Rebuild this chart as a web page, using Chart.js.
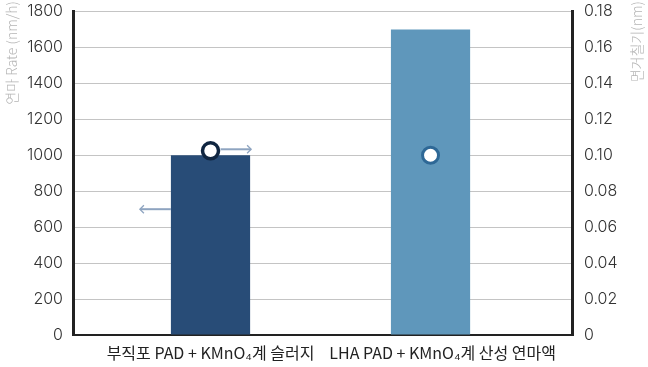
<!DOCTYPE html>
<html>
<head>
<meta charset="utf-8">
<script src="https://cdn.jsdelivr.net/npm/chart.js@4"></script>
<style>
  html, body { margin: 0; padding: 0; background: #fff; }
  #wrap { width: 648px; height: 367px; position: relative; }
</style>
</head>
<body>
<div id="wrap"><canvas id="chart"></canvas></div>
<script>
// chart data
const categories = ["부직포 PAD + KMnO₄계 슬러지", "LHA PAD + KMnO₄계 산성 연마액"];
const polishRate = [1000, 1700];        // nm/h, left axis
const roughness = [0.1025, 0.100];       // nm, right axis
const leftTicks = [0, 200, 400, 600, 800, 1000, 1200, 1400, 1600, 1800];
const rightTicks = [0, 0.02, 0.04, 0.06, 0.08, 0.10, 0.12, 0.14, 0.16, 0.18];
const leftTitle = "연마 Rate (nm/h)";
const rightTitle = "면거칠기(nm)";

const tickFont = { family: "Inter, 'Noto Sans CJK KR', sans-serif", size: 16, weight: 300 };
// the second category label sits a little right of its bar in the original
const labelShift = [0, 0.055];

// axis titles drawn at the top of each axis, both reading bottom-to-top
const axisTitles = {
    id: "axisTitles",
    afterDraw(chart) {
        const ctx = chart.ctx;
        ctx.save();
        ctx.fillStyle = "#b5b5b5";
        ctx.font = "300 14px 'Noto Sans CJK KR', sans-serif";
        ctx.textAlign = "right";
        ctx.textBaseline = "middle";
        [[leftTitle, 12], [rightTitle, 637]].forEach(([text, x]) => {
            ctx.save();
            ctx.translate(x, 1);
            ctx.rotate(-Math.PI / 2);
            ctx.fillText(text, 0, 0);
            ctx.restore();
        });
        ctx.restore();
    }
};

// small arrows telling which axis each series belongs to
const axisArrows = {
    id: "axisArrows",
    afterDatasetsDraw(chart) {
        const ctx = chart.ctx;
        const bar = chart.getDatasetMeta(0).data[0];
        const pt = chart.getDatasetMeta(1).data[0];
        const half = bar.width / 2;
        const yLeft = chart.scales.y.getPixelForValue(700);
        const arrows = [
            { x1: bar.x - half - 31, x2: bar.x - half, y: yLeft, dir: -1 },
            { x1: pt.x + 10, x2: bar.x + half + 1, y: pt.y - 1.5, dir: 1 }
        ];
        ctx.save();
        ctx.strokeStyle = "#8ea4c0";
        ctx.lineWidth = 2;
        arrows.forEach(a => {
            ctx.beginPath();
            ctx.moveTo(a.x1, a.y);
            ctx.lineTo(a.x2, a.y);
            ctx.stroke();
            const tip = a.dir < 0 ? a.x1 : a.x2;
            ctx.lineWidth = 1.3;
            ctx.beginPath();
            ctx.moveTo(tip - a.dir * 4, a.y - 4);
            ctx.lineTo(tip, a.y);
            ctx.lineTo(tip - a.dir * 4, a.y + 4);
            ctx.stroke();
            ctx.lineWidth = 2;
        });
        ctx.restore();
    }
};

const noEdgePadding = s => { s.paddingTop = 0; s.paddingBottom = 0; };

const ctx = document.getElementById("chart").getContext("2d");
new Chart(ctx, {
    type: "bar",
    data: {
        datasets: [{
            type: "bar",
            data: polishRate.map((v, i) => ({ x: i, y: v })),
            backgroundColor: ["#284c77", "#5f97bb"],
            barPercentage: 0.36,
            categoryPercentage: 1,
            yAxisID: "y",
            order: 2
        }, {
            type: "line",
            showLine: false,
            data: roughness.map((v, i) => ({ x: i, y: v })),
            pointRadius: 8,
            pointBorderWidth: [3.5, 3],
            pointBackgroundColor: "#ffffff",
            pointBorderColor: ["#0f2540", "#2e6896"],
            yAxisID: "y2",
            order: 1
        }]
    },
    options: {
        responsive: true,
        maintainAspectRatio: false,
        animation: false,
        layout: { padding: { top: 11, bottom: 0, left: 0, right: 0 } },
        plugins: {
            legend: { display: false },
            tooltip: { enabled: false }
        },
        scales: {
            x: {
                type: "linear",
                offset: false,
                min: -0.625,
                max: 1.643,
                afterBuildTicks: s => { s.ticks = categories.map((c, i) => ({ value: i + labelShift[i] })); },
                afterFit: s => { s.height = 32; },
                ticks: {
                    callback: v => categories[Math.round(v)],
                    color: "#222",
                    font: { family: "'Noto Sans CJK KR', sans-serif", size: 16 },
                    padding: 8,
                    maxRotation: 0,
                    autoSkip: false
                },
                grid: { display: false, drawTicks: false },
                border: { display: true, color: "#222", width: 2 }
            },
            y: {
                position: "left",
                min: 0,
                max: 1800,
                afterBuildTicks: s => { s.ticks = leftTicks.map(v => ({ value: v })); },
                afterFit: s => { s.width = 73; noEdgePadding(s); },
                ticks: { color: "#333", font: tickFont, padding: 10, callback: v => String(v) },
                grid: { color: "#c4c4c4", lineWidth: 1, drawTicks: false },
                border: { display: true, color: "#222", width: 3 }
            },
            y2: {
                position: "right",
                min: 0,
                max: 0.18,
                afterBuildTicks: s => { s.ticks = rightTicks.map(v => ({ value: v })); },
                afterFit: s => { s.width = 76; noEdgePadding(s); },
                ticks: {
                    color: "#333",
                    font: tickFont,
                    padding: 12,
                    callback: v => v === 0 ? "0" : v.toFixed(2)
                },
                grid: { display: false, drawTicks: false },
                border: { display: true, color: "#222", width: 3 }
            }
        }
    },
    plugins: [axisTitles, axisArrows]
});
</script>
</body>
</html>
